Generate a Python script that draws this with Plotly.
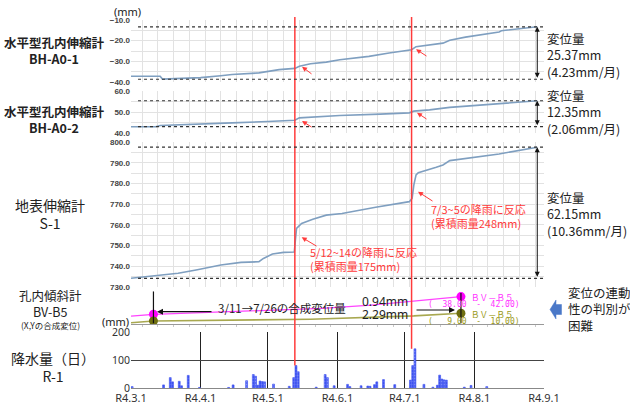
import plotly.graph_objects as go

# ---------------- data ----------------
bh1_dates = ['2022-03-01', '2022-03-14', '2022-03-15', '2022-03-26', '2022-04-01', '2022-04-10',
             '2022-04-15', '2022-04-27', '2022-05-03', '2022-05-06', '2022-05-13', '2022-05-15',
             '2022-05-20', '2022-05-27', '2022-06-02', '2022-06-08', '2022-06-15', '2022-06-24',
             '2022-07-03', '2022-07-04', '2022-07-06', '2022-07-12', '2022-07-18', '2022-07-21',
             '2022-07-28', '2022-08-12', '2022-08-13', '2022-08-29']
bh1_vals = [-37.2, -37.2, -38.6, -38.3, -37.9, -37.0, -36.4, -35.6, -34.6, -34.0, -33.4, -32.4,
            -31.2, -30.4, -29.2, -28.6, -27.6, -26.0, -24.6, -24.4, -22.9, -22.0, -21.2, -19.8,
            -18.3, -15.8, -15.2, -13.3]
bh1_band = [-38.67, -13.3]

bh2_dates = ['2022-03-01', '2022-03-12', '2022-03-14', '2022-04-01', '2022-04-15', '2022-05-01',
             '2022-05-13', '2022-05-15', '2022-05-20', '2022-06-02', '2022-06-20', '2022-07-03',
             '2022-07-05', '2022-07-12', '2022-07-21', '2022-08-12', '2022-08-29']
bh2_vals = [43.0, 43.0, 43.6, 44.1, 44.8, 45.5, 46.1, 47.2, 47.6, 48.3, 49.0, 49.6, 50.4, 51.0,
            52.2, 53.9, 55.35]
bh2_band = [43.0, 55.35]

s1_dates = ['2022-03-01', '2022-03-16', '2022-03-22', '2022-03-30', '2022-04-10', '2022-04-19',
            '2022-04-27', '2022-04-29', '2022-05-03', '2022-05-08', '2022-05-12 18:00',
            '2022-05-13 06:00', '2022-05-13 18:00', '2022-05-16', '2022-05-21', '2022-05-27',
            '2022-06-03', '2022-06-18', '2022-07-03', '2022-07-04 06:00', '2022-07-05',
            '2022-07-06', '2022-07-07', '2022-07-15', '2022-07-18', '2022-07-21', '2022-07-28',
            '2022-08-12', '2022-08-29']
s1_vals = [734.2, 735.8, 736.6, 738.2, 740.6, 741.9, 742.2, 743.8, 745.9, 746.7, 746.9, 752.7,
           758.3, 760.7, 762.7, 764.7, 765.5, 768.5, 771.2, 772.8, 779.2, 784.1, 785.2, 787.8,
           788.9, 791.0, 792.1, 794.2, 797.5]
s1_band = [734.2, 797.5]

bv_x_dates = ['2022-03-01', '2022-03-11', '2022-04-23', '2022-05-25', '2022-06-16', '2022-07-09',
              '2022-07-26']
bv_x_vals = [38.86, 39.05, 39.41, 39.68, 40.05, 40.59, 40.96]
bv_y_dates = ['2022-03-01', '2022-03-11', '2022-05-20', '2022-07-05', '2022-07-26']
bv_y_vals = [9.035, 9.08, 9.13, 9.22, 9.29]
bv_marks = ['2022-03-11', '2022-07-26']

rain_dates = ['2022-03-01', '2022-03-15', '2022-03-18', '2022-03-19', '2022-03-22', '2022-03-23',
              '2022-03-26', '2022-03-31', '2022-04-13', '2022-04-15', '2022-04-21', '2022-04-24',
              '2022-04-25', '2022-04-26', '2022-04-27', '2022-04-28', '2022-04-29', '2022-05-03',
              '2022-05-10', '2022-05-12', '2022-05-13', '2022-05-14', '2022-05-22', '2022-05-26',
              '2022-05-27', '2022-05-30', '2022-06-05', '2022-06-06', '2022-06-11', '2022-06-14',
              '2022-06-15', '2022-06-17', '2022-06-18', '2022-06-21', '2022-06-26', '2022-07-03',
              '2022-07-04', '2022-07-05', '2022-07-09', '2022-07-13', '2022-07-15', '2022-07-16',
              '2022-07-17', '2022-07-18', '2022-07-19', '2022-07-27', '2022-07-30', '2022-08-06']
rain_mm = [5, 11, 37, 22, 24, 8, 45, 2, 2, 11, 26, 48, 42, 10, 25, 23, 22, 14, 6, 37, 80, 58, 3,
           48, 37, 8, 13, 5, 8, 7, 6, 12, 22, 30, 12, 28, 80, 140, 13, 3, 10, 46, 32, 29, 28, 3,
           9, 5]

event_dates = ['2022-05-13', '2022-07-04']
event_peak = [80, 140]

month_ticks = ['2022-03-01', '2022-04-01', '2022-05-01', '2022-06-01', '2022-07-01',
               '2022-08-01', '2022-09-01']
month_labels = ['R4.3.1', 'R4.4.1', 'R4.5.1', 'R4.6.1', 'R4.7.1', 'R4.8.1', 'R4.9.1']

# ---------------- helpers ----------------
W, H = 630, 410


def px(x):
    return x / W


def py(y):
    return 1 - y / H


JP = "Noto Sans CJK JP"
LAT = "Noto Sans"
DAY = 86400000
LINE_C = '#7f9fc0'
RED = '#ff3b3b'

fig = go.Figure()

fig.add_trace(go.Scatter(x=bh1_dates, y=bh1_vals, mode='lines', line=dict(color=LINE_C, width=1.6),
                         xaxis='x', yaxis='y'))
fig.add_trace(go.Scatter(x=bh2_dates, y=bh2_vals, mode='lines', line=dict(color=LINE_C, width=1.6),
                         xaxis='x2', yaxis='y2'))
fig.add_trace(go.Scatter(x=s1_dates, y=s1_vals, mode='lines', line=dict(color=LINE_C, width=1.6),
                         xaxis='x3', yaxis='y3'))

# BV-B5 lines
fig.add_trace(go.Scatter(x=bv_x_dates, y=bv_x_vals, mode='lines', line=dict(color='#ff44ff', width=1.2),
                         xaxis='x4', yaxis='y4'))
fig.add_trace(go.Scatter(x=bv_y_dates, y=bv_y_vals, mode='lines', line=dict(color='#a8a850', width=1.6),
                         xaxis='x4', yaxis='y6'))
bvx_lookup = dict(zip(bv_x_dates, bv_x_vals))
bvy_lookup = dict(zip(bv_y_dates, bv_y_vals))
fig.add_trace(go.Scatter(x=bv_marks, y=[bvx_lookup[d] for d in bv_marks], mode='markers',
                         marker=dict(color='#ff00ff', size=9), xaxis='x4', yaxis='y4'))
fig.add_trace(go.Scatter(x=bv_marks, y=[bvy_lookup[d] for d in bv_marks], mode='markers',
                         marker=dict(color='#6e6e10', size=9), xaxis='x4', yaxis='y6'))

# rain bars
fig.add_trace(go.Bar(x=rain_dates, y=rain_mm, xaxis='x5', yaxis='y5', xperiod=DAY,
                     xperiodalignment='middle', width=DAY * 0.85,
                     marker=dict(color='#3a4ff0', line=dict(color='#3a4ff0', width=0.6),
                                 pattern=dict(shape='.', fgcolor='#dfe3ff', bgcolor='#3a4ff0',
                                              size=3, solidity=0.3))))

# red event lines inside rain panel
for d, pk in zip(event_dates, event_peak):
    fig.add_trace(go.Scatter(x=[d, d], y=[pk, 200], mode='lines', line=dict(color=RED, width=1.5),
                             xaxis='x5', yaxis='y5'))

xdom = [px(131), px(544)]
xrng = ['2022-03-01', '2022-09-01']
grid_c = '#e2e2e2'

base_x = dict(type='date', range=xrng, domain=xdom, showticklabels=False, showgrid=True,
              gridcolor=grid_c, gridwidth=1, tick0='2022-03-06', dtick=7 * DAY, ticks='',
              zeroline=False, showline=False, automargin=False)
tickf = dict(family="Liberation Sans", size=8, color='#444', weight='bold')

layout = dict(
    width=W, height=H, margin=dict(l=0, r=0, t=0, b=0, autoexpand=False),
    paper_bgcolor='white', plot_bgcolor='rgba(0,0,0,0)', showlegend=False,
    font=dict(family=JP, color='#222'),
    xaxis=dict(base_x, anchor='y'),
    xaxis2=dict(base_x, anchor='y2', matches='x'),
    xaxis3=dict(base_x, anchor='y3', matches='x'),
    xaxis4=dict(type='date', range=xrng, domain=xdom, anchor='y4', matches='x', showticklabels=False,
                showgrid=False, showline=True, linecolor='#999', linewidth=1, ticks='outside',
                ticklen=2, tickcolor='#c8c8c8', tick0='2022-03-06', dtick=7 * DAY, zeroline=False,
                automargin=False),
    xaxis5=dict(type='date', range=xrng, domain=xdom, anchor='y5', matches='x',
                tickvals=month_ticks, ticktext=month_labels, showgrid=True, gridcolor='#222',
                gridwidth=1, showline=True, linecolor='#888', ticks='', zeroline=False,
                automargin=False, tickfont=dict(family=LAT, size=11, color='#333')),
    yaxis=dict(domain=[py(82), py(20)], anchor='x', range=[-40, -10], tickvals=[-40, -30, -20, -10],
               tickformat='.1f', showgrid=True, gridcolor=grid_c, zeroline=False, tickfont=tickf,
               automargin=False, minor=dict(dtick=5, showgrid=True, gridcolor=grid_c)),
    yaxis2=dict(domain=[py(133), py(91)], anchor='x2', range=[40, 60], tickvals=[40, 50, 60],
                tickformat='.1f', showgrid=True, gridcolor=grid_c, zeroline=False, tickfont=tickf,
                automargin=False, minor=dict(dtick=5, showgrid=True, gridcolor=grid_c)),
    yaxis3=dict(domain=[py(287), py(142)], anchor='x3', range=[730, 800], dtick=10,
                tickformat='.1f', showgrid=True, gridcolor=grid_c, zeroline=False, tickfont=tickf,
                automargin=False, minor=dict(dtick=5, showgrid=True, gridcolor=grid_c)),
    yaxis4=dict(domain=[py(324), py(287)], anchor='x4', range=[38, 42], visible=False,
                automargin=False),
    yaxis6=dict(domain=[py(324), py(287)], anchor='x4', overlaying='y4', range=[9, 10], visible=False,
                automargin=False),
    yaxis5=dict(domain=[py(388), py(332)], anchor='x5', range=[0, 200], tickvals=[0, 100, 200],
                showgrid=True, gridcolor='#444', zeroline=False, automargin=False,
                tickfont=dict(family=LAT, size=10.5, color='#333')),
)
fig.update_layout(**layout)

shapes = []
# red vertical event lines across the upper panels
for d in event_dates:
    shapes.append(dict(type='line', xref='x', yref='paper', x0=d, x1=d, y0=py(332), y1=py(17),
                       line=dict(color=RED, width=1.5)))
# dotted bands
for ax, band in (('', bh1_band), ('2', bh2_band), ('3', s1_band)):
    for v in band:
        shapes.append(dict(type='line', xref='x%s domain' % ax, yref='y' + ax, x0=0.017, x1=1.0,
                           y0=v, y1=v, line=dict(color='#333', width=1.2, dash='dot')))
# BV cursor lines
shapes.append(dict(type='line', xref='x4', yref='y4 domain', x0=bv_marks[0], x1=bv_marks[0],
                   y0=0.02, y1=0.88, line=dict(color='#111', width=1.2)))
shapes.append(dict(type='line', xref='x4', yref='y4 domain', x0=bv_marks[1], x1=bv_marks[1],
                   y0=0.02, y1=0.84, line=dict(color='#111', width=1.2)))
# blue block arrow
pts = [(550, 309.5), (556, 300), (556, 304.5), (561.5, 304.5), (561.5, 314.5), (556, 314.5),
       (556, 319)]
path = 'M ' + ' L '.join('%f,%f' % (px(a), py(b)) for a, b in pts) + ' Z'
shapes.append(dict(type='path', xref='paper', yref='paper', path=path, fillcolor='#4a78c8',
                   line=dict(color='#4a78c8', width=0.5)))
fig.update_layout(shapes=shapes)

ann = []


def text(x, y, t, size=12, color='#222', xanchor='center', bold=False, family=JP, align='center'):
    ann.append(dict(x=px(x), y=py(y), xref='paper', yref='paper', text=t, showarrow=False,
                    xanchor=xanchor, yanchor='middle', align=align, borderpad=0,
                    font=dict(family=family, size=size, color=color,
                              weight='bold' if bold else 'normal')))


def arrow(hx, hy, tx, ty, color=RED, width=1, head=2, size=1.0):
    ann.append(dict(x=px(hx), y=py(hy), xref='paper', yref='paper', text='', showarrow=True,
                    ax=tx - hx, ay=ty - hy, arrowcolor=color, arrowwidth=width, arrowhead=head,
                    arrowsize=size))


# left labels
text(54, 50, '水平型孔内伸縮計<br>BH-A0-1', size=12.5, bold=True)
text(54, 119, '水平型孔内伸縮計<br>BH-A0-2', size=12.5, bold=True)
text(50, 213.5, '地表伸縮計<br>S-1', size=14)
text(50, 303.5, '孔内傾斜計<br>BV-B5', size=12.5)
text(50, 324.5, '(X,Yの合成変位)', size=8.5)
text(53, 366.5, '降水量（日）<br>R-1', size=14)
text(127, 11, '(mm)', size=11, family=LAT)
text(115, 321, '(mm)', size=11, family=LAT)

# right labels
text(546, 54.5, '変位量<br>25.37mm<br>(4.23mm/月)', size=12.5, xanchor='left', align='left')
text(546, 112, '変位量<br>12.35mm<br>(2.06mm/月)', size=12.5, xanchor='left', align='left')
text(546, 214, '変位量<br>62.15mm<br>(10.36mm/月)', size=12.5, xanchor='left', align='left')
text(567, 309, '変位の連動<br>性の判別が<br>困難', size=12.5, xanchor='left', align='left')

# double arrows for displacement
for xa, ya, band in (('x', 'y', bh1_band), ('x2', 'y2', bh2_band), ('x3', 'y3', s1_band)):
    ann.append(dict(x='2022-08-29', y=band[1], xref=xa, yref=ya, ax='2022-08-29', ay=band[0],
                    axref=xa, ayref=ya, text='', showarrow=True, arrowhead=2, arrowside='end+start',
                    arrowwidth=1, arrowcolor='#111', arrowsize=1))

# red pointer arrows
arrow(302, 66.7, 313, 75)
arrow(416, 49.3, 428, 57)
arrow(302, 121, 313, 128)
arrow(417, 112.7, 428, 120)
arrow(301.7, 237.3, 318, 247)
arrow(418, 191.7, 434, 202)
text(309, 259, '5/12~14の降雨に反応<br>(累積雨量175mm)', size=11, color=RED, xanchor='left',
     align='left')
text(430, 215.5, '7/3~5の降雨に反応<br>(累積雨量248mm)', size=11, color=RED, xanchor='left',
     align='left')

# BV panel annotations
arrow(157, 311.7, 213, 311.7, color='#111', width=1.2, head=2)
text(217, 308, '3/11→7/26の合成変位量', size=11.5, xanchor='left')
arrow(455, 310, 415, 310, color='#111', width=1.2, head=2)
text(385, 301, '0.94mm', size=12, family=LAT)
text(385, 314, '2.29mm', size=12, family=LAT)
text(470, 296.5, 'ＢＶ－Ｂ５', size=8.5, color='#ff33ff', xanchor='left')
text(427, 304.5, '(  38.00  -  42.00)', size=8, color='#ff33ff', xanchor='left', family='DejaVu Sans Mono')
text(470, 313.5, 'ＢＶ－Ｂ５', size=8.5, color='#9a9a20', xanchor='left')
text(427, 321.5, '(   9.00  -  10.00)', size=8, color='#9a9a20', xanchor='left', family='DejaVu Sans Mono')

fig.update_layout(annotations=ann)

fig.write_html("out.html")
